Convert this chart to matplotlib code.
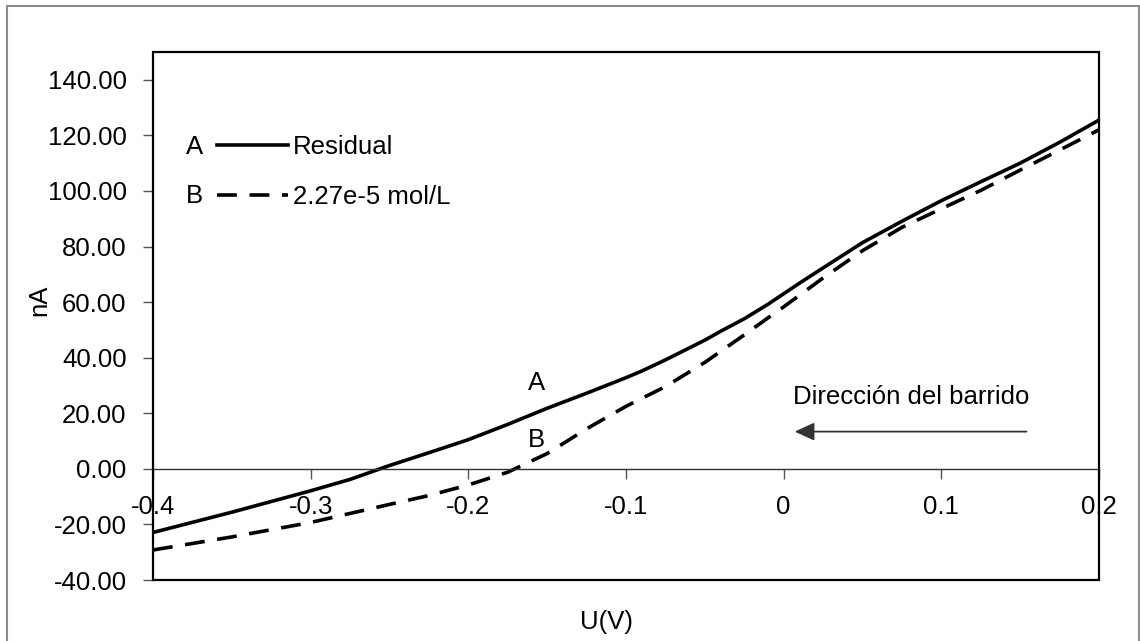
import numpy as np
import matplotlib.pyplot as plt
from matplotlib.patches import Rectangle

plt.rcParams['font.family'] = ['Liberation Sans', 'DejaVu Sans']

# Voltage (V) and current (nA)
u_a = [-0.40, -0.35, -0.30, -0.275, -0.25, -0.225, -0.20, -0.175, -0.15, -0.125,
       -0.10, -0.09, -0.075, -0.05, -0.04, -0.025, -0.01, 0.0, 0.01, 0.025, 0.05,
       0.075, 0.10, 0.125, 0.15, 0.175, 0.20]
i_a = [-22.9, -15.6, -7.9, -3.8, 1.2, 5.8, 10.5, 16.0, 21.8, 27.2,
       32.8, 35.2, 39.2, 46.3, 49.5, 54.0, 59.2, 63.0, 66.8, 72.3, 81.4,
       89.1, 96.5, 103.3, 110.0, 117.5, 125.5]

u_b = [-0.40, -0.35, -0.30, -0.25, -0.225, -0.20, -0.175, -0.15, -0.125, -0.10,
       -0.075, -0.05, -0.025, -0.01, 0.0, 0.015, 0.025, 0.05, 0.075, 0.10, 0.125,
       0.15, 0.175, 0.20]
i_b = [-29.2, -24.5, -19.3, -12.8, -9.6, -5.8, -1.2, 5.5, 14.4, 22.5,
       29.6, 38.3, 48.2, 54.3, 58.3, 64.5, 68.7, 78.5, 86.9, 93.6, 100.2,
       107.5, 114.7, 122.0]

x_ticks = [-0.4, -0.3, -0.2, -0.1, 0, 0.1, 0.2]
x_labels = ['-0.4', '-0.3', '-0.2', '-0.1', '0', '0.1', '0.2']
y_ticks = np.arange(-40, 141, 20)

fs = 18.5

fig = plt.figure(figsize=(11.4, 6.41), dpi=100)
fig.patches.append(Rectangle((7 / 1140, -0.02), 1132 / 1140, 1.02 - 6 / 641,
                             transform=fig.transFigure, fill=False,
                             edgecolor='#8c8c8c', lw=1.5))

ax = fig.add_axes([153 / 1140, 1 - 580 / 641, 946 / 1140, 528 / 641])

ax.plot(u_a, i_a, color='black', lw=2.6, solid_joinstyle='round', label='Residual')
ax.plot(u_b, i_b, color='black', lw=2.6, dashes=(5.5, 3.5), label='2.27e-5 mol/L')

ax.set_xlim(-0.4, 0.2)
ax.set_ylim(-40, 150)

# frame around the plot area, x-axis line runs through y = 0
for side in ['left', 'right', 'top']:
    ax.spines[side].set_visible(False)
ax.spines['bottom'].set_position(('data', 0))
ax.spines['bottom'].set_linewidth(1.0)
ax.spines['bottom'].set_color('#333333')
ax.add_patch(Rectangle((0, 0), 1, 1, transform=ax.transAxes, fill=False,
                       edgecolor='black', lw=1.6, clip_on=False, zorder=5))

ax.set_xticks(x_ticks)
ax.set_xticklabels(x_labels)
ax.set_yticks(y_ticks)
ax.set_yticklabels([f'{v:.2f}' for v in y_ticks])
ax.tick_params(axis='x', direction='out', length=7, width=1, color='#555555',
               labelsize=fs, pad=12)
ax.tick_params(axis='y', direction='out', length=7, width=1, color='#555555',
               labelsize=fs, pad=12)

ax.set_xlabel('U(V)', fontsize=fs)
ax.xaxis.set_label_coords(0.479, -0.057)
ax.set_ylabel('nA', fontsize=fs)
ax.yaxis.set_label_coords(-0.107, 0.53)

leg = ax.legend(loc='upper left', bbox_to_anchor=(0.068, 0.843), frameon=False,
                fontsize=fs, handlelength=2.75, handletextpad=0.2,
                labelspacing=1.02, borderaxespad=0, borderpad=0)
ax.text(0.044, 0.821, 'A', transform=ax.transAxes, fontsize=fs, ha='center', va='center')
ax.text(0.044, 0.728, 'B', transform=ax.transAxes, fontsize=fs, ha='center', va='center')

# curve labels and sweep direction
ax.text(-0.157, 30.9, 'A', fontsize=fs, ha='center', va='center')
ax.text(-0.157, 10.4, 'B', fontsize=fs, ha='center', va='center')
ax.text(0.0807, 26.0, 'Dirección del barrido', fontsize=fs, ha='center', va='center')
ax.annotate('', xy=(0.007, 13.4), xytext=(0.154, 13.4),
            arrowprops=dict(arrowstyle='-|>,head_length=1.2,head_width=0.55',
                            color='#333333', lw=1.3, shrinkA=0, shrinkB=0))

fig.savefig('out.png', dpi=100)
